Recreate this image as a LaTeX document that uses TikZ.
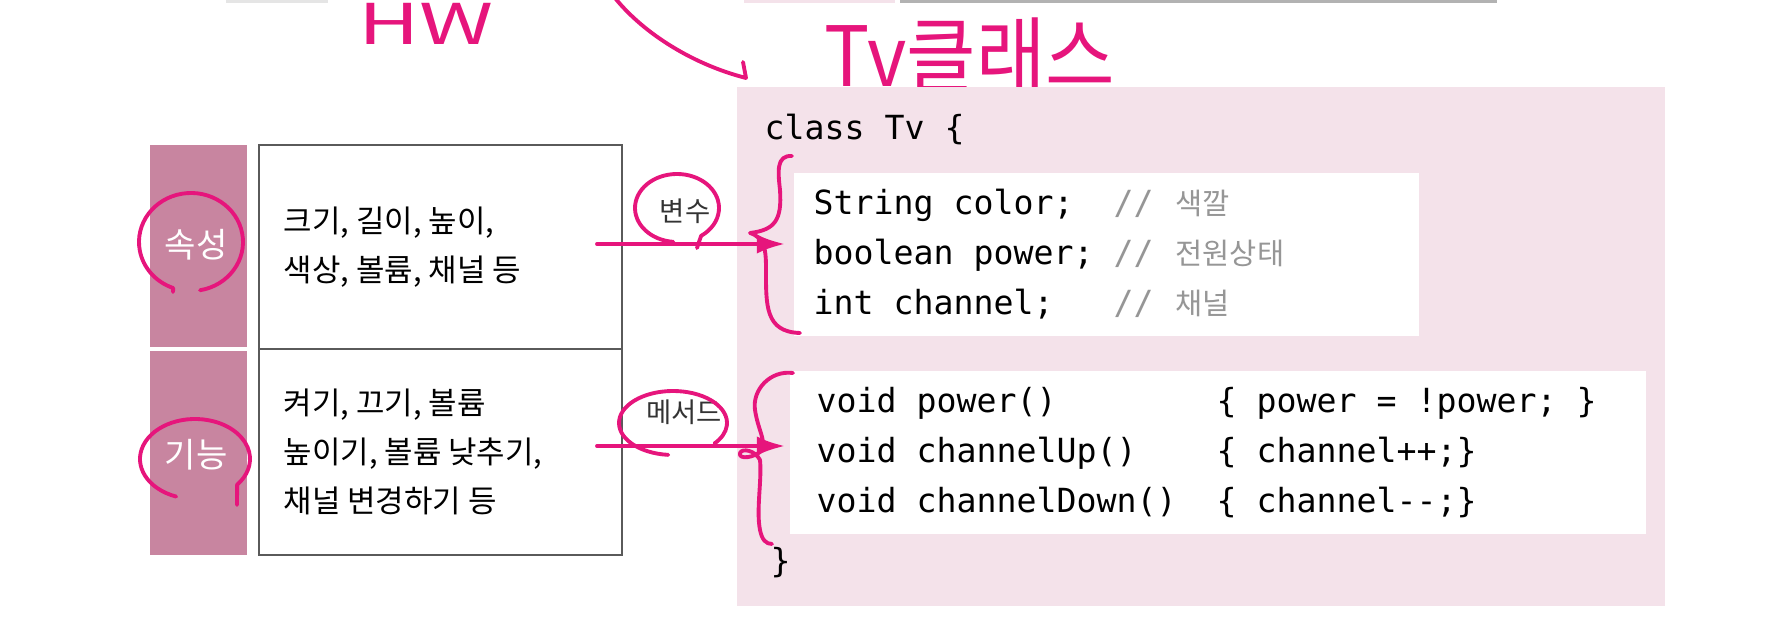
\documentclass[tikz,border=0pt]{standalone}
\usepackage{fontspec}
\setmainfont{Noto Sans CJK KR}
\setmonofont{DejaVu Sans Mono}
\newfontfamily\kr{Noto Sans CJK KR}
\usepackage{xcolor}
\usepackage{tikz}
\usetikzlibrary{arrows.meta}

\definecolor{handpink}{RGB}{230,21,124}
\definecolor{colpink}{RGB}{200,133,160}
\definecolor{panelpink}{RGB}{244,226,234}
\definecolor{cmtgray}{RGB}{150,150,150}
\definecolor{cellgray}{RGB}{90,90,90}

\tikzset{
  hand/.style={draw=handpink, line width=1.1pt, line cap=round, line join=round},
  handarrow/.style={hand, -{Latex[length=8pt,width=5.5pt]}},
  handtext/.style={text=handpink, inner sep=0pt},
  codefont/.style={font=\ttfamily\fontsize{9.45pt}{14.2pt}\selectfont},
  codebox/.style={codefont, fill=white, align=left, anchor=north west, inner xsep=0.2cm, minimum height=1.63cm},
  celltext/.style={anchor=west, align=left, inner sep=0pt, font=\fontsize{8.8pt}{13.9pt}\selectfont},
  collabel/.style={text=white, font=\fontsize{9.7pt}{11pt}\selectfont},
  notelabel/.style={text=black!80, inner sep=0pt, font=\fontsize{7.8pt}{9pt}\selectfont}
}

\newcommand{\cmt}[1]{\textcolor{cmtgray}{//\hspace{0.22cm}{\kr\fontsize{8.4pt}{14.2pt}\selectfont #1}}}
\newcommand{\monospaces}{\spaceskip=0pt\xspaceskip=0pt\relax}

\begin{document}
\begin{tikzpicture}
\useasboundingbox (0,0) rectangle (17.76,-6.42);

\fill [black!10] (2.26,0) rectangle (3.28,-0.03);
\fill [panelpink] (7.44,0) rectangle (8.95,-0.03);
\fill [black!30] (9.00,0) rectangle (14.97,-0.03);

\node [handtext, anchor=base west, xscale=1.5, font=\fontsize{16pt}{18pt}\selectfont] (hw) at (3.57,-0.45) {HW};
\draw [hand] (6.15,0.02) .. controls (6.45,-0.35) and (6.95,-0.65) .. (7.46,-0.78) -- (7.43,-0.62);
\node [handtext, yscale=1.1, font=\fontsize{21.5pt}{24pt}\selectfont] (tvclass) at (9.70,-0.55) {Tv클래스};

\fill [colpink] (1.50,-1.45) rectangle (2.47,-5.55);
\draw [white, line width=1pt] (1.50,-3.49) -- (2.47,-3.49);
\draw [cellgray, line width=0.6pt] (2.59,-1.45) rectangle (6.22,-5.55);
\draw [cellgray, line width=0.6pt] (2.59,-3.49) -- (6.22,-3.49);

\node [collabel] (sokseong) at (1.96,-2.45) {속성};
\node [collabel] (gineung) at (1.96,-4.55) {기능};
\node [celltext] (attrtext) at (2.83,-2.47) {크기, 길이, 높이,\\색상, 볼륨, 채널 등};
\node [celltext] (functext) at (2.83,-4.52) {켜기, 끄기, 볼륨\\높이기, 볼륨 낮추기,\\채널 변경하기 등};

\fill [panelpink] (7.37,-0.87) rectangle (16.65,-6.06);
\node [codefont, anchor=west, inner sep=0pt] (classline) at (7.64,-1.30) {class~Tv~\{};
\node [codebox, text width=5.85cm] (fields) at (7.93,-1.72) {\monospaces
String~color;~~\cmt{색깔}\\
boolean~power;~\cmt{전원상태}\\
int~channel;~~~\cmt{채널}};
\node [codebox, text width=8.02cm, inner xsep=0.27cm] (methods) at (7.89,-3.70) {\monospaces
void~power()~~~~~~~~\{~power~=~!power;~\}\\
void~channelUp()~~~~\{~channel++;\}\\
void~channelDown()~~\{~channel-{}-;\}};
\node [codefont, anchor=west, inner sep=0pt] (closing) at (7.70,-5.63) {\}};

\draw [hand] (1.91,-2.42) ++(-80:0.52 and 0.49) arc [start angle=-80, end angle=250, x radius=0.52, y radius=0.49] -- (1.73,-2.92);
\draw [hand] (1.95,-4.59) ++(250:0.55 and 0.40) arc [start angle=250, end angle=-40, x radius=0.55, y radius=0.40] -- (2.37,-5.05);

\node [notelabel] (varlabel) at (6.85,-2.11) {변수};
\node [notelabel] (methlabel) at (6.84,-4.12) {메서드};
\draw [hand] (6.77,-2.08) ++(265:0.42 and 0.34) arc [start angle=265, end angle=-55, x radius=0.42, y radius=0.34] -- (6.97,-2.48);
\draw [hand] (6.73,-4.23) ++(265:0.54 and 0.32) arc [start angle=265, end angle=-40, x radius=0.54, y radius=0.32];

\coordinate (varstart) at (5.97,-2.44);
\coordinate (varend) at (7.85,-2.44);
\coordinate (methstart) at (5.97,-4.46);
\coordinate (methend) at (7.85,-4.46);
\draw [handarrow] (varstart) -- (varend);
\draw [handarrow] (methstart) -- (methend);

\draw [hand] (7.92,-1.56) .. controls (7.76,-1.55) and (7.78,-1.72) .. (7.80,-1.90) .. controls (7.82,-2.20) and (7.75,-2.30) .. (7.50,-2.33) .. controls (7.65,-2.38) and (7.66,-2.50) .. (7.66,-2.70) .. controls (7.66,-3.05) and (7.65,-3.32) .. (8.00,-3.33);
\draw [hand] (7.93,-3.73) .. controls (7.70,-3.70) and (7.52,-3.90) .. (7.55,-4.10) .. controls (7.58,-4.30) and (7.66,-4.40) .. (7.62,-4.50) .. controls (7.55,-4.58) and (7.38,-4.60) .. (7.40,-4.53) .. controls (7.42,-4.48) and (7.55,-4.50) .. (7.60,-4.60) .. controls (7.62,-4.80) and (7.56,-5.10) .. (7.60,-5.30) .. controls (7.62,-5.40) and (7.66,-5.44) .. (7.72,-5.44);
\end{tikzpicture}
\end{document}
